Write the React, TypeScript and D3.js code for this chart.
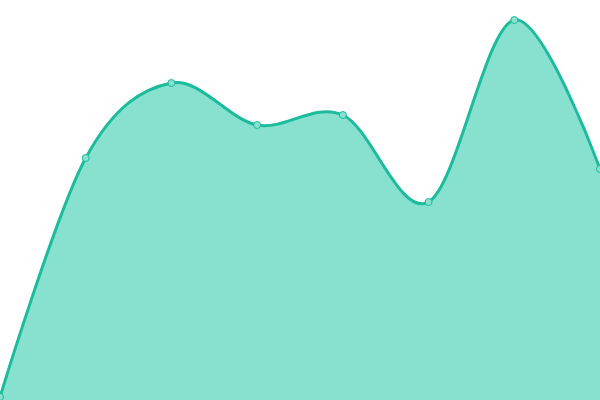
import React from 'react';
import * as d3 from 'd3';

// values (scale 0..100)
const labels = ['P1', 'P2', 'P3', 'P4', 'P5', 'P6', 'P7', 'P8'];
const values = [0.75, 60.5, 79.25, 68.75, 71.25, 49.5, 95, 57.75];

const width = 600;
const height = 400;

const App: React.FC = () => {
  const xScale = d3.scalePoint<string>()
    .domain(labels)
    .range([0, width]);

  const yScale = d3.scaleLinear()
    .domain([0, 100])
    .range([height, 0]);

  const points = labels.map((l, i) => ({ x: xScale(l) as number, y: yScale(values[i]) }));

  const curve = d3.curveCardinal;

  const area = d3.area<{ x: number; y: number }>()
    .x(d => d.x)
    .y0(height)
    .y1(d => d.y)
    .curve(curve);

  const line = d3.line<{ x: number; y: number }>()
    .x(d => d.x)
    .y(d => d.y)
    .curve(curve);

  return (
    <div style={{ position: 'absolute', top: 0, left: 0 }}>
      <svg width={width} height={height} style={{ display: 'block' }}>
        <path d={area(points) || ''} fill="#88e0cf" />
        <path d={line(points) || ''} fill="none" stroke="#1abc9c" strokeWidth={3} />
        {points.map((p, i) => (
          <circle key={i} cx={p.x} cy={p.y} r={3.5} fill="#88e0cf" stroke="#1abc9c" strokeWidth={1} />
        ))}
      </svg>
    </div>
  );
};

export default App;
